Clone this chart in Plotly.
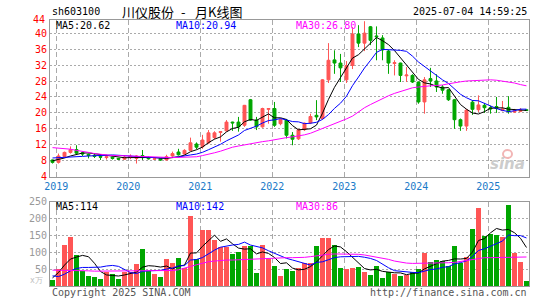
import plotly.graph_objects as go
import pandas as pd

# ---------------- data ----------------
months = list(pd.period_range("2018-12", "2025-07", freq="M").strftime("%Y-%m"))

opens = [8.2, 7.6, 9.1, 10.1, 10.8, 10.0, 9.6, 9.4, 9.1, 8.8, 8.9, 8.6,
         8.4, 8.9, 8.6, 9.3, 8.8, 8.4, 8.5, 8.2, 9.2, 10.2, 9.7, 10.6,
         12.2, 11.5, 12.5, 13.8, 15.1, 15.5, 17.7, 17.7, 16.9, 23.3, 18.2, 16.5,
         20.9, 21.1, 17.3, 18.2, 14.4, 13.5, 15.8, 17.5, 19.4, 18.6, 28.3, 33.3,
         32.5, 28.3, 31.9, 39.8, 37.5, 41.6, 39.3, 38.8, 35.5, 32.4, 32.5, 29.3,
         29.4, 27.75, 22.75, 28.6, 28.0, 26.5, 25.8, 23.3, 18.3, 16.7, 22.7, 20.8,
         21.9, 21.3, 21.6, 20.6, 21.4, 20.2, 20.4, 20.8]
highs = [8.3, 9.8, 10.3, 11.6, 11.9, 10.3, 9.8, 9.7, 9.5, 9.5, 9.0, 8.7,
         9.4, 9.6, 9.4, 10.7, 9.1, 8.8, 8.6, 9.5, 10.3, 11.0, 10.9, 13.8,
         12.6, 14.5, 15.7, 15.4, 15.4, 18.2, 17.8, 19.0, 22.0, 23.5, 19.0, 21.3,
         21.2, 22.75, 18.6, 18.5, 15.2, 16.0, 17.6, 19.8, 23.2, 28.5, 37.5, 35.7,
         34.8, 33.0, 41.5, 42.0, 43.0, 41.8, 41.7, 39.5, 35.8, 33.2, 32.6, 31.5,
         29.7, 27.8, 29.0, 31.3, 29.7, 27.0, 26.0, 23.5, 18.6, 21.0, 23.2, 24.4,
         22.5, 21.8, 24.0, 23.0, 24.2, 21.0, 21.2, 20.9]
lows = [7.3, 7.3, 8.9, 9.8, 9.7, 9.2, 8.6, 8.7, 8.2, 8.3, 8.3, 8.2,
        8.3, 8.4, 7.3, 8.2, 8.3, 8.2, 8.0, 8.1, 9.0, 9.3, 9.5, 10.5,
        10.9, 11.0, 12.2, 13.4, 12.8, 15.3, 15.5, 15.3, 16.5, 18.0, 15.7, 16.3,
        17.3, 16.5, 16.9, 13.6, 11.9, 13.2, 15.5, 17.2, 18.2, 18.3, 27.5, 29.8,
        27.75, 27.5, 31.0, 36.5, 35.5, 37.0, 33.2, 33.2, 29.8, 29.4, 27.75, 27.75,
        27.5, 22.3, 19.8, 26.5, 25.25, 24.8, 23.0, 16.0, 15.5, 15.5, 19.5, 20.2,
        20.0, 19.8, 20.0, 20.4, 19.8, 20.0, 20.2, 20.5]
closes = [7.6, 9.2, 10.1, 10.8, 9.9, 9.7, 9.3, 9.1, 8.9, 9.0, 8.6, 8.4,
          8.9, 9.1, 9.2, 8.8, 8.5, 8.5, 8.2, 9.0, 9.8, 9.5, 10.6, 12.5,
          11.4, 13.2, 15.0, 15.0, 15.3, 17.7, 17.5, 16.5, 21.9, 18.2, 16.5, 21.1,
          21.1, 16.9, 18.3, 14.4, 13.4, 15.8, 17.4, 19.1, 19.0, 28.3, 33.2, 32.5,
          31.3, 31.9, 39.8, 37.5, 40.0, 38.2, 39.1, 35.8, 32.5, 32.6, 29.4, 29.5,
          27.75, 22.75, 28.3, 28.0, 26.5, 25.7, 23.3, 18.3, 16.7, 20.7, 20.9, 22.0,
          21.3, 21.0, 21.1, 21.0, 20.3, 20.5, 20.7, 20.6]
volumes = [19, 50, 123, 144, 93, 44, 30, 26, 22, 42, 36, 22,
           42, 42, 64, 109, 44, 36, 28, 79, 67, 84, 52, 207,
           80, 166, 166, 135, 115, 116, 94, 102, 120, 120, 40, 123,
           80, 60, 30, 51, 45, 53, 69, 69, 120, 141, 141, 123,
           54, 51, 54, 57, 43, 33, 60, 24, 42, 37, 31, 34,
           42, 50, 97, 70, 78, 74, 60, 120, 68, 87, 168, 232,
           147, 154, 152, 144, 241, 99, 72, 15]

# MA values at the left edge (history before the first shown month)
ma5_head = [8.0, 8.3, 8.7, 9.2]
ma10_head = [8.7, 8.75, 8.8, 8.9, 9.0, 9.1, 9.2, 9.3, 9.35]
ma30_price = [11.3, 11.2, 11.1, 10.9, 10.6, 10.4, 10.1, 9.8, 9.6, 9.4, 9.3, 9.3,
              9.25, 9.2, 9.1, 9.0, 8.95, 8.9, 8.8, 8.8, 8.8, 8.85, 8.9, 8.95,
              9.0, 9.3, 9.6, 10.0, 10.4, 10.9, 11.4, 11.7, 12.0, 12.3, 12.5, 12.8,
              13.0, 13.3, 13.6, 13.8, 14.0, 14.2, 14.5, 14.9, 15.5, 16.0, 16.6, 17.2,
              17.8, 18.5, 19.2, 20.3, 21.3, 22.1, 22.9, 23.7, 24.3, 24.9, 25.4, 25.9,
              26.3, 26.5, 26.7, 26.8, 26.9, 27.0, 27.3, 27.6, 27.8, 28.0, 28.1, 28.2,
              28.3, 28.3, 28.2, 28.0, 27.8, 27.5, 27.1, 26.8]
vol_ma5_head = [24, 40, 62, 80]
vol_ma10_head = [30, 28, 35, 45, 52, 55, 55, 55, 56]
vol_ma30 = [47, 47, 46, 46, 45, 45, 45, 44, 44, 44, 44, 44,
            44, 44, 44, 44, 45, 45, 45, 45, 46, 48, 52, 58,
            63, 68, 72, 74, 76, 77, 77, 78, 78, 79, 79, 80,
            82, 83, 84, 84, 84, 84, 85, 87, 90, 93, 94, 95,
            95, 95, 95, 94, 92, 89, 86, 83, 79, 74, 70, 68,
            67, 67, 67, 67, 67, 68, 69, 70, 73, 77, 80, 83,
            84, 84, 84, 84, 85, 85, 85, 86]

years = ["2019", "2020", "2021", "2022", "2023", "2024", "2025"]
price_ticks = [4, 8, 12, 16, 20, 24, 28, 32, 36, 40]
vol_ticks = [50, 100, 150, 200, 250]

legend_price = ["MA5:20.62", "MA10:20.94", "MA30:26.80"]
legend_vol = ["MA5:114", "MA10:142", "MA30:86"]

# ---------------- derived ----------------
def rolling_with_head(values, n, head):
    s = pd.Series(values, dtype=float).rolling(n).mean().tolist()
    return list(head) + s[len(head):]

ma5 = rolling_with_head(closes, 5, ma5_head)
ma10 = rolling_with_head(closes, 10, ma10_head)
vma5 = rolling_with_head(volumes, 5, vol_ma5_head)
vma10 = rolling_with_head(volumes, 10, vol_ma10_head)

idx = list(range(len(months)))
year_pos = [i - 0.38 for i, m in enumerate(months) if m.endswith("-01")]

RED = "#ff5555"
GREEN = "#00a600"
MONO = "DejaVu Sans Mono"

vol_colors = [RED if c >= o else GREEN for o, c in zip(opens, closes)]

W, H = 545, 300
L, R, T, B = 50, 16, 20, 14
PW, PH = W - L - R, H - T - B


def px(x):
    return (x - L) / PW


def py(y):
    return (H - B - y) / PH


fig = go.Figure()
fig.add_trace(go.Candlestick(
    x=idx, open=opens, high=highs, low=lows, close=closes,
    increasing=dict(line=dict(color=RED, width=1), fillcolor=RED),
    decreasing=dict(line=dict(color=GREEN, width=1), fillcolor=GREEN),
    whiskerwidth=0, hoverinfo="skip", xaxis="x", yaxis="y"))
for vals, col in [(ma5, "#000000"), (ma10, "#0000ff"), (ma30_price, "#ff00ff")]:
    fig.add_trace(go.Scatter(x=idx, y=vals, mode="lines", line=dict(color=col, width=1),
                             hoverinfo="skip", xaxis="x", yaxis="y"))

fig.add_trace(go.Bar(x=idx, y=volumes, marker=dict(color=vol_colors, line=dict(width=0)),
                     width=0.78, hoverinfo="skip", xaxis="x2", yaxis="y2"))
for vals, col in [(vma5, "#000000"), (vma10, "#0000ff"), (vol_ma30, "#ff00ff")]:
    fig.add_trace(go.Scatter(x=idx, y=vals, mode="lines", line=dict(color=col, width=1),
                             hoverinfo="skip", xaxis="x2", yaxis="y2"))

xr = [-0.417, 79.42]
frame = dict(showline=True, linecolor="#999999", linewidth=1, mirror=True, zeroline=False,
             ticks="", automargin=False)
fig.update_layout(
    width=W, height=H, margin=dict(l=L, r=R, t=T, b=B, autoexpand=False),
    paper_bgcolor="white", plot_bgcolor="white", showlegend=False, bargap=0,
    xaxis=dict(domain=[0, 1], range=xr, anchor="y", tickvals=year_pos, ticktext=years,
               showgrid=True, gridcolor="#aaaaaa", griddash="5px,3px", gridwidth=1,
               tickfont=dict(family=MONO, size=10, color="#1a7ac8"),
               rangeslider=dict(visible=False), **frame),
    yaxis=dict(domain=[py(177), 1], range=[3.93, 43.3], tickvals=price_ticks,
               showgrid=True, gridcolor="#aaaaaa", griddash="2px,2px", gridwidth=1,
               tickfont=dict(family=MONO, size=10, color="#ff0000"), **frame),
    xaxis2=dict(domain=[0, 1], range=xr, anchor="y2", tickvals=year_pos, showticklabels=False,
                showgrid=True, gridcolor="#aaaaaa", griddash="5px,3px", gridwidth=1, **frame),
    yaxis2=dict(domain=[0, py(201.7)], range=[0, 250], tickvals=vol_ticks,
                showgrid=True, gridcolor="#aaaaaa", griddash="2px,2px", gridwidth=1,
                tickfont=dict(family=MONO, size=10, color="#999999"), **frame),
)

ann = []


def text(x, y, s, color="#000000", size=10, family=MONO, xanchor="left", **kw):
    ann.append(dict(x=px(x), y=py(y), xref="paper", yref="paper", text=s, showarrow=False,
                    xanchor=xanchor, yanchor="middle", font=dict(family=family, size=size, color=color), **kw))


text(50, 11, "sh603100")
text(120, 11, "川仪股份", size=13, family="Noto Sans CJK SC")
text(183, 11, "-", size=13, family="Noto Sans CJK SC", xanchor="center")
text(193, 11, "月K线图", size=13, family="Noto Sans CJK SC")
text(529, 11, "2025-07-04 14:59:25", xanchor="right")
text(47, 19.5, "44", color="#ff0000", xanchor="right")
text(54, 25, legend_price[0], color="#000000")
text(174, 25, legend_price[1], color="#0000ff")
text(294, 25, legend_price[2], color="#ff00ff")
text(54, 206, legend_vol[0], color="#000000")
text(174, 206, legend_vol[1], color="#0000ff")
text(294, 206, legend_vol[2], color="#ff00ff")
text(45, 280, "x万", color="#c0c0c0", size=8, xanchor="right")
text(50, 292.5, "Copyright 2025 SINA.COM", color="#555555")
text(529, 292.5, "http://finance.sina.com.cn", color="#555555", xanchor="right")
text(527, 164, "<b><i>sina</i></b>", color="#cccccc", size=15, family="DejaVu Sans", xanchor="right")
fig.update_layout(annotations=ann)
fig.add_shape(type="circle", xref="paper", yref="paper",
              x0=px(503), x1=px(512), y0=py(158), y1=py(150),
              line=dict(color="#f2b5b5", width=2))

fig.write_html("out.html", config={"displayModeBar": False, "staticPlot": True},
               post_script="document.body.style.margin='0';document.body.style.overflow='hidden';")
